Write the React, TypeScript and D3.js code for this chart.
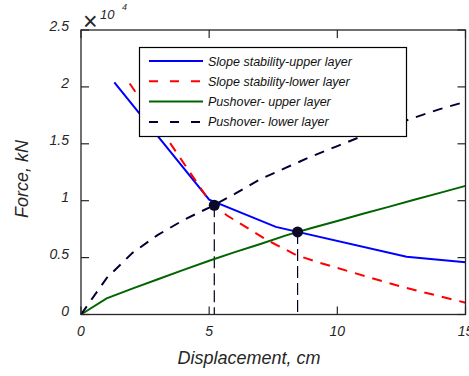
import { useEffect, useRef } from 'react';
import * as d3 from 'd3';

// Slope stability - upper layer
const slopeUpperX = [1.3, 5.0, 7.6, 12.7, 15];
const slopeUpperY = [20400, 10100, 7700, 5070, 4600];

// Slope stability - lower layer
const slopeLowerX = [1.9, 5.0, 5.7, 7.25, 8.4, 9.3, 12.5, 15];
const slopeLowerY = [20300, 10000, 8700, 6550, 5220, 4550, 2440, 1040];

// Pushover - upper layer
const pushUpperX = [0, 1, 2, 3, 4, 5, 6, 7, 8, 9, 10, 11, 12, 13, 14, 15];
const pushUpperY = [0, 1420, 2270, 3100, 3920, 4720, 5480, 6200, 6950, 7600, 8220, 8850, 9460, 10080, 10690, 11300];

// Pushover - lower layer
const pushLowerX = [0, 1, 2, 3, 4, 5, 6, 7, 8, 9, 10, 11, 12, 13, 14, 15];
const pushLowerY = [0, 3200, 5400, 7000, 8300, 9400, 10600, 11900, 12900, 13900, 14800, 15700, 16500, 17300, 18050, 18700];

// intersection points
const crossX = [5.2, 8.45];
const crossY = [9600, 7260];

const xTicks = [0, 5, 10, 15];
const yTicks = [0, 5000, 10000, 15000, 20000, 25000];
const yTickLabels = ['0', '0.5', '1', '1.5', '2', '2.5'];

const legendLabels = [
  'Slope stability-upper layer',
  'Slope stability-lower layer',
  'Pushover- upper layer',
  'Pushover- lower layer',
];

export default function App() {
  const svgRef = useRef<SVGSVGElement>(null);

  useEffect(() => {
    if (!svgRef.current) return;
    const W = 469;
    const H = 376;
    const font = '"Liberation Sans", Arial, sans-serif';
    const axisCol = '#262626';

    d3.select(svgRef.current).selectAll('*').remove();
    const svg = d3.select(svgRef.current).attr('width', W).attr('height', H);

    const x = d3.scaleLinear().domain([0, 15]).range([81, 465.5]);
    const y = d3.scaleLinear().domain([0, 25000]).range([314.5, 30]);

    const series = [
      { xs: slopeUpperX, ys: slopeUpperY, color: '#0000ff', dash: null },
      { xs: slopeLowerX, ys: slopeLowerY, color: '#ff0000', dash: '10,8' },
      { xs: pushUpperX, ys: pushUpperY, color: '#006400', dash: null },
      { xs: pushLowerX, ys: pushLowerY, color: '#000033', dash: '10,8' },
    ];

    const line = d3
      .line<[number, number]>()
      .x((d) => x(d[0]))
      .y((d) => y(d[1]));

    const plot = svg.append('g');

    // vertical guide lines from intersections
    crossX.forEach((cx, i) => {
      plot
        .append('line')
        .attr('x1', x(cx))
        .attr('x2', x(cx))
        .attr('y1', y(crossY[i]))
        .attr('y2', y(0))
        .attr('stroke', '#000022')
        .attr('stroke-width', 1.2)
        .attr('stroke-dasharray', '12,5');
    });

    series.forEach((s) => {
      const pts = s.xs.map((v, i) => [v, s.ys[i]] as [number, number]);
      plot
        .append('path')
        .attr('d', line(pts))
        .attr('fill', 'none')
        .attr('stroke', s.color)
        .attr('stroke-width', 2)
        .attr('stroke-dasharray', s.dash);
    });

    // markers
    crossX.forEach((cx, i) => {
      plot
        .append('circle')
        .attr('cx', x(cx))
        .attr('cy', y(crossY[i]))
        .attr('r', 5.5)
        .attr('fill', '#0a0a28');
    });

    // axes box
    const [x0, x1] = x.range();
    const [y0, y1] = y.range();
    svg
      .append('rect')
      .attr('x', x0)
      .attr('y', y1)
      .attr('width', x1 - x0)
      .attr('height', y0 - y1)
      .attr('fill', 'none')
      .attr('stroke', axisCol)
      .attr('stroke-width', 1.3);

    const tickLen = 8;
    xTicks.forEach((t) => {
      svg.append('line').attr('x1', x(t)).attr('x2', x(t)).attr('y1', y0).attr('y2', y0 - tickLen).attr('stroke', axisCol).attr('stroke-width', 1.2);
      svg.append('line').attr('x1', x(t)).attr('x2', x(t)).attr('y1', y1).attr('y2', y1 + tickLen).attr('stroke', axisCol).attr('stroke-width', 1.2);
      svg
        .append('text')
        .attr('x', x(t))
        .attr('y', 336)
        .attr('text-anchor', 'middle')
        .attr('font-family', font)
        .attr('font-style', 'italic')
        .attr('font-size', 14)
        .attr('fill', axisCol)
        .text(String(t));
    });
    yTicks.forEach((t, i) => {
      svg.append('line').attr('x1', x0).attr('x2', x0 + tickLen).attr('y1', y(t)).attr('y2', y(t)).attr('stroke', axisCol).attr('stroke-width', 1.2);
      svg.append('line').attr('x1', x1).attr('x2', x1 - tickLen).attr('y1', y(t)).attr('y2', y(t)).attr('stroke', axisCol).attr('stroke-width', 1.2);
      svg
        .append('text')
        .attr('x', 69)
        .attr('y', y(t) + 1)
        .attr('text-anchor', 'end')
        .attr('font-family', font)
        .attr('font-style', 'italic')
        .attr('font-size', 14)
        .attr('fill', axisCol)
        .text(yTickLabels[i]);
    });

    // exponent
    svg.append('text').attr('x', 83).attr('y', 30).attr('font-family', font).attr('font-size', 25).attr('font-weight', 300).attr('fill', axisCol).text('\u00d7');
    svg.append('text').attr('x', 100).attr('y', 19).attr('font-family', font).attr('font-style', 'italic').attr('font-size', 13).attr('fill', axisCol).text('10');
    svg.append('text').attr('x', 122).attr('y', 10).attr('font-family', font).attr('font-style', 'italic').attr('font-size', 9).attr('fill', axisCol).text('4');

    // axis labels
    svg
      .append('text')
      .attr('x', 249)
      .attr('y', 364)
      .attr('text-anchor', 'middle')
      .attr('font-family', font)
      .attr('font-style', 'italic')
      .attr('font-size', 18)
      .attr('fill', axisCol)
      .text('Displacement, cm');
    svg
      .append('text')
      .attr('transform', 'translate(28,179) rotate(-90)')
      .attr('text-anchor', 'middle')
      .attr('font-family', font)
      .attr('font-style', 'italic')
      .attr('font-size', 18)
      .attr('fill', axisCol)
      .text('Force, kN');

    // Legenda
    const legend = svg.append('g');
    legend
      .append('rect')
      .attr('x', 139.5)
      .attr('y', 47.5)
      .attr('width', 267)
      .attr('height', 89)
      .attr('fill', '#fff')
      .attr('stroke', '#000')
      .attr('stroke-width', 1.2);
    series.forEach((s, i) => {
      const ly = 61 + i * 20.3;
      legend
        .append('line')
        .attr('x1', 149)
        .attr('x2', 203)
        .attr('y1', ly)
        .attr('y2', ly)
        .attr('stroke', s.color)
        .attr('stroke-width', 2)
        .attr('stroke-dasharray', s.dash ? '9,12' : null);
      legend
        .append('text')
        .attr('x', 208)
        .attr('y', ly + 4.5)
        .attr('font-family', font)
        .attr('font-style', 'italic')
        .attr('font-size', 12.5)
        .attr('fill', '#111')
        .text(legendLabels[i]);
    });
  }, []);

  return (
    <div style={{ position: 'absolute', left: 0, top: 0 }}>
      <svg ref={svgRef} style={{ display: 'block' }} />
    </div>
  );
}
